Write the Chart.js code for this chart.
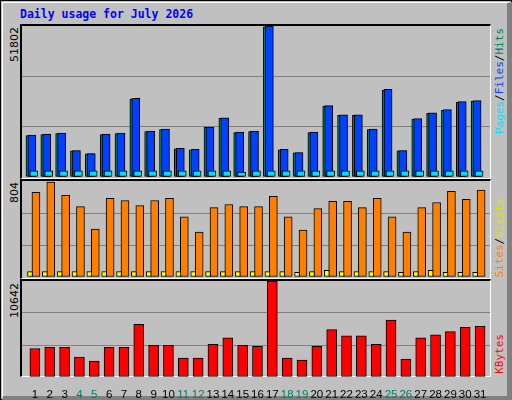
<!DOCTYPE html>
<html><head><meta charset="utf-8">
<script src="https://cdn.jsdelivr.net/npm/chart.js@4/dist/chart.umd.min.js"></script>
<style>
body{margin:0;background:#fff;}
#frame{position:absolute;left:0;top:0;width:512px;height:400px;box-sizing:border-box;border:1px solid #000;background:#c0c0c0;}
#bevel{position:absolute;left:1px;top:1px;width:510px;height:398px;box-sizing:border-box;border-top:1px solid #fff;border-left:1px solid #fff;border-right:5px solid #808080;border-bottom:4px solid #808080;}
.panel{position:absolute;left:20px;width:471px;box-sizing:border-box;border-top:2px solid #000;border-left:2px solid #000;border-right:1px solid #fff;border-bottom:1px solid #fff;}
canvas{position:absolute;}
.vl{position:absolute;writing-mode:vertical-rl;transform:rotate(180deg);font-family:"DejaVu Sans";font-size:11px;white-space:nowrap;line-height:11px;}
.vr{position:absolute;writing-mode:vertical-rl;transform:rotate(180deg);font-family:"DejaVu Sans Mono";font-size:11px;white-space:nowrap;line-height:11px;}
#title{position:absolute;left:20px;top:7px;font:bold 11.5px "DejaVu Sans Mono";color:#0000ff;}
</style></head><body>
<div id="frame"><div id="bevel"></div></div>
<div id="title">Daily usage for July 2026</div>
<div class="panel" style="top:24px;height:155px"></div>
<div class="panel" style="top:179px;height:100px"></div>
<div class="panel" style="top:279px;height:98px"></div>
<div class="vl" style="left:9px;top:27px">51802</div>
<div class="vl" style="left:9px;top:182px">804</div>
<div class="vl" style="left:9px;top:283px">10642</div>
<div class="vr" style="left:494px;top:28px"><span style="color:#00e0ff">Pages</span>/<span style="color:#0040ff">Files</span>/<span style="color:#00805c">Hits</span></div>
<div class="vr" style="left:494px;top:198px"><span style="color:#ff8000">Sites</span>/<span style="color:#e0e000">Visits</span></div>
<div class="vr" style="left:494px;top:334px"><span style="color:#ff0000">KBytes</span></div>
<canvas id="c1" width="468" height="151" style="left:22px;top:26px"></canvas>
<canvas id="c2" width="468" height="96" style="left:22px;top:181px"></canvas>
<canvas id="c3" width="468" height="117" style="left:22px;top:281px"></canvas>
<script>
const days=[1,2,3,4,5,6,7,8,9,10,11,12,13,14,15,16,17,18,19,20,21,22,23,24,25,26,27,28,29,30,31];
const weekend=[4,5,11,12,18,19,25,26];
const hits=[14350,14700,15050,9100,8050,14700,15050,26950,15750,16450,9800,9450,17150,20300,15400,15750,51802,9450,8400,15400,24500,21350,21350,16450,30100,9100,20000,22050,23100,25900,26250];
const files=[14200,14550,14900,9000,7950,14550,14900,26700,15600,16300,9700,9350,17000,20100,15250,15600,51500,9350,8300,15250,24300,21150,21150,16300,29800,9000,19800,21850,22900,25650,26000];
const pages=[2100,2100,2100,2100,2100,2100,2100,2100,2100,2100,2100,2100,2100,2100,1700,2100,2100,2100,2100,2100,2100,2100,2100,2100,2100,2100,2100,2100,2100,2100,2100];
const sites=[710,795,684,590,402,658,641,598,641,658,504,376,581,607,590,590,675,504,393,573,633,633,581,658,504,376,581,624,718,650,727];
const visits=[45,45,45,45,45,45,45,45,45,45,45,45,45,45,45,45,45,45,40,45,55,45,45,45,45,40,45,55,40,40,40];
const kbytes=[3160,3280,3280,2220,1755,3280,3280,5850,3510,3510,2110,2110,3630,4330,3510,3390,10642,2110,1870,3390,5260,4560,4560,3630,6320,1990,4330,4680,5030,5500,5620];
const maxes=[51802,804,10642];
const XMIN=0.13, XMAX=31.67;
function ds(vals,off,color,w){return {data:days.map((d,i)=>({x:d+off,y:vals[i]})),backgroundColor:color,borderColor:'#000',borderWidth:1,barThickness:w,grouped:false,borderSkipped:false};}
function mk(id,max,sets,showX){
  new Chart(document.getElementById(id),{type:'bar',data:{datasets:sets},options:{
    responsive:false,animation:false,layout:{padding:0},
    plugins:{legend:{display:false},tooltip:{enabled:false}},
    scales:{
      x:{type:'linear',min:XMIN,max:XMAX,display:showX,offset:false,grid:{display:false},border:{display:false},
        afterBuildTicks:s=>{s.ticks=days.map(d=>({value:d}));},
        afterFit:s=>{if(showX) s.height=21; else s.height=0;},
        ticks:{autoSkip:false,maxRotation:0,padding:3,font:{family:'Liberation Sans',size:11.5},
          color:c=>weekend.includes(c.tick&&c.tick.value)?'#00805c':'#000',callback:v=>String(v)}},
      y:{min:0,max:max,afterFit:s=>{s.width=0;},ticks:{display:false,stepSize:max/3},border:{display:false},
        grid:{drawTicks:false,lineWidth:1,color:c=>(c.tick.value>0&&c.tick.value<max*0.99)?'#808080':'rgba(0,0,0,0)'}}
    }}});
}
mk('c1',maxes[0],[ds(pages,-0.07,'#00e0ff',8),ds(hits,-0.2,'#0040ff',8),ds(files,-0.3,'#00805c',9)],false);
mk('c2',maxes[1],[ds(visits,-0.33,'#ffff00',5),ds(sites,0.07,'#ff8000',8)],false);
mk('c3',maxes[2],[ds(kbytes,0,'#ff0000',10)],true);
</script>
</body></html>
